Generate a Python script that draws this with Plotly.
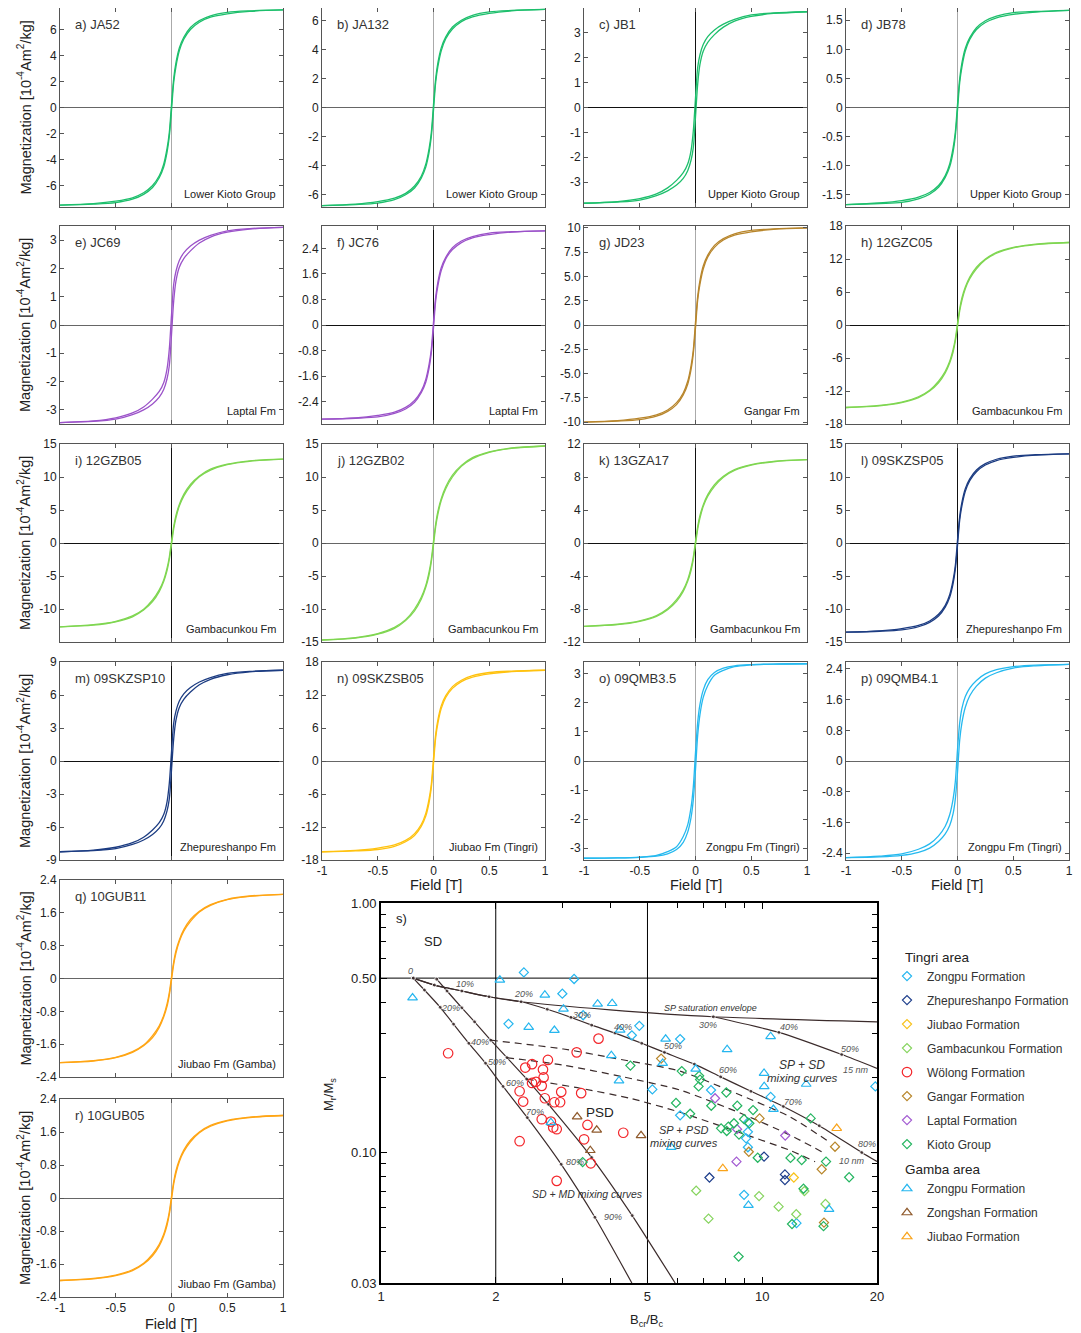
import numpy as np
import plotly.graph_objects as go

# page is drawn with the browser's default 8px body margin, so the figure is
# 8px smaller than the window and every reference pixel position is shifted by 8
OFF = 8
FIG_W, FIG_H = 1081 - OFF, 1333 - OFF
FONT = "Liberation Sans, Arial, Helvetica, sans-serif"


def fx(px):
    return (px - OFF) / FIG_W


def fy(py):
    return 1 - (py - OFF) / FIG_H


# ---------------- hysteresis loops (panels a-r) ----------------
field_T = [-1, -0.7, -0.5, -0.35, -0.25, -0.17, -0.11, -0.07, -0.04, -0.02, 0,
           0.02, 0.04, 0.07, 0.11, 0.17, 0.25, 0.35, 0.5, 0.7, 1]

panel_tags = ['a', 'b', 'c', 'd', 'e', 'f', 'g', 'h', 'i', 'j', 'k', 'l', 'm', 'n',
              'o', 'p', 'q', 'r']
sample_ids = ['JA52', 'JA132', 'JB1', 'JB78', 'JC69', 'JC76', 'JD23', '12GZC05',
              '12GZB05', '12GZB02', '13GZA17', '09SKZSP05', '09SKZSP10', '09SKZSB05',
              '09QMB3.5', '09QMB4.1', '10GUB11', '10GUB05']
unit_names = ['Lower Kioto Group', 'Lower Kioto Group', 'Upper Kioto Group',
              'Upper Kioto Group', 'Laptal Fm', 'Laptal Fm', 'Gangar Fm',
              'Gambacunkou Fm', 'Gambacunkou Fm', 'Gambacunkou Fm', 'Gambacunkou Fm',
              'Zhepureshanpo Fm', 'Zhepureshanpo Fm', 'Jiubao Fm (Tingri)',
              'Zongpu Fm (Tingri)', 'Zongpu Fm (Tingri)', 'Jiubao Fm (Gamba)',
              'Jiubao Fm (Gamba)']

# upper (descending-field) branch, magnetization in 10^-4 Am^2/kg at field_T
m_JA52 = [-7.5, -7.39, -7.2, -6.94, -6.56, -6.0, -5.25, -4.35, -3.15, -1.95, 0.23,
          2.25, 3.45, 4.58, 5.4, 6.15, 6.68, 7.05, 7.31, 7.43, 7.5]
m_JA132 = [-6.75, -6.65, -6.48, -6.24, -5.91, -5.4, -4.73, -3.92, -2.84, -1.76, 0.2,
           2.03, 3.11, 4.12, 4.86, 5.54, 6.01, 6.35, 6.58, 6.68, 6.75]
m_JB1 = [-3.85, -3.78, -3.66, -3.47, -3.23, -2.93, -2.62, -2.27, -1.73, -0.96, 0.39,
         1.62, 2.12, 2.54, 2.85, 3.12, 3.35, 3.54, 3.72, 3.8, 3.85]
m_JB78 = [-1.67, -1.64, -1.6, -1.54, -1.46, -1.34, -1.17, -0.97, -0.7, -0.43, 0.05,
          0.5, 0.77, 1.02, 1.2, 1.37, 1.49, 1.57, 1.63, 1.65, 1.67]
m_JC69 = [-3.45, -3.39, -3.28, -3.11, -2.9, -2.62, -2.35, -2.04, -1.55, -0.86, 0.35,
          1.45, 1.9, 2.28, 2.55, 2.79, 3.0, 3.17, 3.33, 3.41, 3.45]
m_JC76 = [-2.95, -2.91, -2.83, -2.73, -2.58, -2.36, -2.07, -1.71, -1.24, -0.77, 0.09,
          0.89, 1.36, 1.8, 2.12, 2.42, 2.63, 2.77, 2.88, 2.92, 2.95]
m_JD23 = [-10, -9.85, -9.6, -9.25, -8.75, -8.0, -7.0, -5.8, -4.2, -2.6, 0.3,
          3.0, 4.6, 6.1, 7.2, 8.2, 8.9, 9.4, 9.75, 9.9, 10]
m_12GZC05 = [-15, -14.63, -14.03, -13.05, -11.85, -10.2, -8.4, -6.6, -4.5, -2.55, 0.3,
             3.0, 4.95, 6.9, 8.7, 10.5, 12.0, 13.2, 14.1, 14.7, 15]
m_12GZB05 = [-12.7, -12.38, -11.87, -11.05, -10.03, -8.64, -7.11, -5.59, -3.81, -2.16,
             0.25, 2.54, 4.19, 5.84, 7.37, 8.89, 10.16, 11.18, 11.94, 12.45, 12.7]
m_12GZB02 = [-14.7, -14.33, -13.74, -12.79, -11.61, -10.0, -8.23, -6.47, -4.41, -2.5,
             0.29, 2.94, 4.85, 6.76, 8.53, 10.29, 11.76, 12.94, 13.82, 14.41, 14.7]
m_13GZA17 = [-10.1, -9.85, -9.44, -8.79, -7.98, -6.87, -5.66, -4.44, -3.03, -1.72, 0.2,
             2.02, 3.33, 4.65, 5.86, 7.07, 8.08, 8.89, 9.49, 9.9, 10.1]
m_09SKZSP05 = [-13.5, -13.3, -12.96, -12.49, -11.81, -10.8, -9.45, -7.83, -5.67, -3.51,
               0.41, 4.05, 6.21, 8.24, 9.72, 11.07, 12.02, 12.69, 13.16, 13.37, 13.5]
m_09SKZSP10 = [-8.25, -8.11, -7.84, -7.43, -6.93, -6.27, -5.61, -4.87, -3.71, -2.06,
               0.83, 3.47, 4.54, 5.45, 6.11, 6.68, 7.18, 7.59, 7.96, 8.15, 8.25]
m_09SKZSB05 = [-16.5, -16.25, -15.84, -15.26, -14.44, -13.2, -11.55, -9.57, -6.93, -4.29,
               0.5, 4.95, 7.59, 10.07, 11.88, 13.53, 14.69, 15.51, 16.09, 16.34, 16.5]
m_09QMB3_5 = [-3.35, -3.34, -3.31, -3.25, -3.12, -2.95, -2.6, -2.2, -1.6, -0.9, 0.3,
              1.35, 1.95, 2.45, 2.8, 3.05, 3.2, 3.28, 3.32, 3.34, 3.35]
m_09QMB4_1 = [-2.52, -2.48, -2.42, -2.3, -2.16, -1.95, -1.7, -1.4, -1.0, -0.55, 0.3,
              1.0, 1.38, 1.68, 1.9, 2.1, 2.27, 2.38, 2.46, 2.5, 2.52]
m_10GUB11 = [-2.05, -2.0, -1.92, -1.78, -1.62, -1.39, -1.15, -0.9, -0.62, -0.35, 0.04,
             0.41, 0.68, 0.94, 1.19, 1.44, 1.64, 1.8, 1.93, 2.01, 2.05]
m_10GUB05 = [-2.0, -1.95, -1.87, -1.74, -1.58, -1.36, -1.12, -0.88, -0.6, -0.34, 0.04,
             0.4, 0.66, 0.92, 1.16, 1.4, 1.6, 1.76, 1.88, 1.96, 2.0]

upper_branches = [m_JA52, m_JA132, m_JB1, m_JB78, m_JC69, m_JC76, m_JD23, m_12GZC05,
                  m_12GZB05, m_12GZB02, m_13GZA17, m_09SKZSP05, m_09SKZSP10,
                  m_09SKZSB05, m_09QMB3_5, m_09QMB4_1, m_10GUB11, m_10GUB05]

y_tick_labels = [
    ['6', '4', '2', '0', '-2', '-4', '-6'],
    ['6', '4', '2', '0', '-2', '-4', '-6'],
    ['3', '2', '1', '0', '-1', '-2', '-3'],
    ['1.5', '1.0', '0.5', '0', '-0.5', '-1.0', '-1.5'],
    ['3', '2', '1', '0', '-1', '-2', '-3'],
    ['2.4', '1.6', '0.8', '0', '-0.8', '-1.6', '-2.4'],
    ['10', '7.5', '5.0', '2.5', '0', '-2.5', '-5.0', '-7.5', '-10'],
    ['18', '12', '6', '0', '-6', '-12', '-18'],
    ['15', '10', '5', '0', '-5', '-10'],
    ['15', '10', '5', '0', '-5', '-10', '-15'],
    ['12', '8', '4', '0', '-4', '-8', '-12'],
    ['15', '10', '5', '0', '-5', '-10', '-15'],
    ['9', '6', '3', '0', '-3', '-6', '-9'],
    ['18', '12', '6', '0', '-6', '-12', '-18'],
    ['3', '2', '1', '0', '-1', '-2', '-3'],
    ['2.4', '1.6', '0.8', '0', '-0.8', '-1.6', '-2.4'],
    ['2.4', '1.6', '0.8', '0', '-0.8', '-1.6', '-2.4'],
    ['2.4', '1.6', '0.8', '0', '-0.8', '-1.6', '-2.4'],
]
x_tick_labels = ['-1', '-0.5', '0', '0.5', '1']

# ---------------- Day plot (panel s) ----------------
series_names = ['Zongpu Formation', 'Zhepureshanpo Formation', 'Jiubao Formation',
                'Gambacunkou Formation', 'Wölong Formation', 'Gangar Formation',
                'Laptal Formation', 'Kioto Group', 'Zongpu Formation',
                'Zongshan Formation', 'Jiubao Formation']
area_names = ['Tingri area', 'Gamba area']

zongpu_t_bcr_bc = [2.37, 3.21, 2.99, 3.39, 2.16, 4.76, 4.55, 5.15, 6.09, 7.34, 10.52,
                   19.8, 6.09, 9.17, 9.17, 9.07, 9.17, 8.96, 12.30]
zongpu_t_mr_ms = [0.527, 0.496, 0.433, 0.355, 0.328, 0.322, 0.295, 0.179, 0.285, 0.178,
                  0.167, 0.184, 0.141, 0.132, 0.121, 0.114, 0.105, 0.0677, 0.0521]
zhepu_bcr_bc = [10.11, 7.27, 11.47, 11.47]
zhepu_mr_ms = [0.0963, 0.0794, 0.0817, 0.0776]
jiubao_t_bcr_bc = [12.10]
jiubao_t_mr_ms = [0.0794]
gamba_bcr_bc = [6.71, 7.23, 9.81, 11.04, 14.65, 12.28, 12.90]
gamba_mr_ms = [0.0703, 0.0543, 0.0669, 0.0607, 0.0622, 0.0566, 0.0701]
wolong_bcr_bc = [1.50, 3.72, 3.26, 2.74, 2.49, 2.39, 2.66, 2.67, 2.49, 2.55, 2.64, 2.31,
                 2.97, 3.35, 2.36, 2.69, 2.85, 2.95, 2.64, 2.79, 2.83, 2.89, 3.48, 4.32,
                 2.31, 3.41, 3.55, 2.89]
wolong_mr_ms = [0.250, 0.286, 0.252, 0.235, 0.226, 0.219, 0.215, 0.200, 0.190, 0.192,
                0.185, 0.176, 0.175, 0.173, 0.160, 0.165, 0.159, 0.159, 0.136, 0.133,
                0.126, 0.124, 0.129, 0.120, 0.111, 0.113, 0.0905, 0.077]
gangar_bcr_bc = [5.43, 9.84, 15.52, 9.22, 14.32, 14.52]
gangar_mr_ms = [0.238, 0.137, 0.1055, 0.1007, 0.0857, 0.0524]
laptal_bcr_bc = [7.52, 8.59, 11.49, 8.56]
laptal_mr_ms = [0.165, 0.124, 0.117, 0.0919]
kioto_bcr_bc = [4.51, 5.94, 6.15, 6.83, 6.87, 6.81, 8.05, 7.35, 8.60, 9.46, 6.47, 8.96,
                9.25, 7.80, 8.07, 8.43, 8.69, 8.15, 13.4, 9.73, 11.86, 12.69, 14.7, 16.9,
                12.83, 11.97, 14.48, 8.67, 3.38]
kioto_mr_ms = [0.223, 0.158, 0.212, 0.203, 0.196, 0.184, 0.174, 0.154, 0.154, 0.148,
               0.143, 0.136, 0.131, 0.125, 0.122, 0.131, 0.118, 0.127, 0.137, 0.0953,
               0.0951, 0.0933, 0.092, 0.0796, 0.0716, 0.0517, 0.0507, 0.0383, 0.0916]
zongpu_g_bcr_bc = [1.21, 2.05, 2.69, 3.01, 3.70, 4.04, 2.44, 2.85, 4.24, 4.02, 5.58, 5.48,
                   8.09, 4.21, 6.69, 10.52, 10.11, 10.12, 13.04, 10.70, 5.77, 9.20, 14.97,
                   2.79]
zongpu_g_mr_ms = [0.417, 0.491, 0.428, 0.376, 0.394, 0.396, 0.318, 0.309, 0.310, 0.245,
                  0.285, 0.228, 0.259, 0.194, 0.216, 0.292, 0.208, 0.184, 0.188, 0.149,
                  0.105, 0.0615, 0.0592, 0.132]
zongshan_bcr_bc = [3.27, 3.68, 4.81, 3.54]
zongshan_mr_ms = [0.139, 0.123, 0.117, 0.102]
jiubao_g_bcr_bc = [15.68, 7.88]
jiubao_g_mr_ms = [0.125, 0.0863]

# theoretical mixing curves (Dunlop 2002)
sp_sd_10nm_x = [1.215, 1.38, 1.63, 1.92, 2.33, 2.73, 3.15, 3.57, 4.11, 4.83, 5.54, 6.64,
                7.78, 9.34, 11.36, 14.11, 18.24, 20]
sp_sd_10nm_y = [0.50, 0.469, 0.444, 0.421, 0.402, 0.375, 0.348, 0.324, 0.301, 0.274,
                0.252, 0.226, 0.201, 0.176, 0.153, 0.128, 0.100, 0.092]
sp_envelope_x = [1.215, 1.38, 1.63, 1.92, 2.33, 3.99, 7.44, 20]
sp_envelope_y = [0.50, 0.469, 0.444, 0.421, 0.402, 0.373, 0.350, 0.334]
sp_sd_15nm_x = [7.44, 11.06, 16.16, 20]
sp_sd_15nm_y = [0.350, 0.303, 0.247, 0.2175]
sd_md_1_x = [1.215, 1.30, 1.43, 1.55, 1.70, 1.88, 2.09, 2.42, 2.97, 3.64, 4.55]
sd_md_1_y = [0.50, 0.448, 0.382, 0.327, 0.274, 0.228, 0.184, 0.138, 0.0897, 0.055, 0.03]
sd_md_2_x = [1.40, 1.49, 1.63, 1.76, 1.94, 2.14, 2.41, 2.75, 3.57, 4.56, 5.91]
sd_md_2_y = [0.495, 0.444, 0.380, 0.334, 0.282, 0.240, 0.197, 0.156, 0.0955, 0.0559, 0.03]
sp_psd_1_x = [1.94, 3.01, 4.07, 6.09, 8.75, 11.83, 14.76]
sp_psd_1_y = [0.282, 0.260, 0.239, 0.212, 0.170, 0.139, 0.112]
sp_psd_2_x = [2.14, 3.01, 4.32, 6.09, 8.75, 11.83, 14.46]
sp_psd_2_y = [0.240, 0.224, 0.201, 0.178, 0.144, 0.1175, 0.0999]
sp_psd_3_x = [2.41, 3.33, 4.50, 6.09, 8.75, 11.83, 13.76]
sp_psd_3_y = [0.197, 0.181, 0.165, 0.145, 0.120, 0.102, 0.0919]

day_x_ticks = ['1', '2', '5', '10', '20']
day_y_ticks = ['0.03', '0.10', '0.50', '1.00']
day_x_minor = [3, 4, 6, 7, 8, 9]
day_y_minor = [0.04, 0.05, 0.06, 0.07, 0.08, 0.09, 0.2, 0.3, 0.4, 0.6, 0.7, 0.8, 0.9]

# ================= styling / layout =================
loop_colors = (['#1dbf6c'] * 4 + ['#9b52c9'] * 2 + ['#b8862c'] + ['#7fd651'] * 4 +
               ['#1c3c82'] * 2 + ['#ffc20f'] + ['#25b9ef'] * 2 + ['#ffa514'] * 2)
y_limits = [7.65, 6.85, 4.0, 1.71, 3.5, 3.1, 10.2, 18, 15, 15, 12, 15, 9, 18, 3.41,
            2.58, 2.4, 2.4]
col_px = [(60, 283), (322, 545), (584, 807), (846, 1069)]
row_px = [(8, 207), (226, 424), (444, 642), (662, 860), (880, 1077), (1099, 1297)]
grid_pos = [(k // 4, k % 4) for k in range(16)] + [(4, 0), (5, 0)]
labelled_x = {13, 14, 15, 17}
dark_zero = {2, 5, 7, 8, 10, 11, 12}

fig = go.Figure()
axes = {}
annotations = []

H = np.array(field_T)
for k in range(18):
    sfx = '' if k == 0 else str(k + 1)
    up = np.array(upper_branches[k])
    for xs, ys in ((H[::-1], up[::-1]), (H, -up[::-1])):
        fig.add_trace(go.Scatter(
            x=xs, y=ys, xaxis='x' + sfx, yaxis='y' + sfx, mode='lines',
            line=dict(color=loop_colors[k], width=1.3, shape='spline', smoothing=0.9),
            showlegend=False, hoverinfo='skip'))
    r, c = grid_pos[k]
    x0, x1 = col_px[c]
    y0, y1 = row_px[r]
    vz = '#111111' if k in dark_zero else '#aaaaaa'
    hz = '#111111' if k in dark_zero else '#666666'
    tf = dict(family=FONT, size=12, color='#222')
    xa = dict(domain=[fx(x0), fx(x1)], range=[-1, 1], anchor='y' + sfx,
              showgrid=False, zeroline=True, zerolinecolor=vz, zerolinewidth=1,
              showline=True, linecolor='#555', linewidth=1, mirror='ticks',
              ticks='inside', ticklen=4, tickcolor='#555', tickfont=tf, fixedrange=True,
              automargin=False)
    if k in labelled_x:
        xa.update(tickvals=[float(t) for t in x_tick_labels], ticktext=x_tick_labels,
                  showticklabels=True)
    else:
        xa.update(tickvals=[-0.5, 0, 0.5], showticklabels=False)
    lim = y_limits[k]
    ya = dict(domain=[fy(y1), fy(y0)], range=[-lim, lim],
              anchor='x' + sfx, showgrid=False, zeroline=True, zerolinecolor=hz,
              zerolinewidth=1, showline=True, linecolor='#555', linewidth=1,
              mirror='ticks', ticks='inside', ticklen=4, tickcolor='#555',
              tickvals=[float(t) for t in y_tick_labels[k]],
              ticktext=y_tick_labels[k], tickfont=tf, fixedrange=True,
              automargin=False)
    axes['xaxis' + sfx] = xa
    axes['yaxis' + sfx] = ya
    annotations.append(dict(xref='x%s domain' % sfx, yref='y%s domain' % sfx,
                            x=0.058, y=0.915, xanchor='left', yanchor='middle',
                            text='%s) %s' % (panel_tags[k], sample_ids[k]),
                            showarrow=False,
                            font=dict(family=FONT, size=13, color='#333')))
    annotations.append(dict(xref='x%s domain' % sfx, yref='y%s domain' % sfx,
                            x=0.978, y=0.065, xanchor='right', yanchor='middle',
                            text=unit_names[k], showarrow=False,
                            font=dict(family=FONT, size=11, color='#222')))

# y titles and x titles for hysteresis panels
for (y0, y1) in row_px:
    annotations.append(dict(xref='paper', yref='paper', x=fx(24),
                            y=fy((y0 + y1) / 2), textangle=-90,
                            text='Magnetization [10<sup>-4</sup>Am<sup>2</sup>/kg]',
                            showarrow=False, xanchor='center', yanchor='middle',
                            font=dict(family=FONT, size=14.5, color='#222')))
for (cx, cy) in [(436, 885), (696, 885), (957, 885), (171, 1324)]:
    annotations.append(dict(xref='paper', yref='paper', x=fx(cx), y=fy(cy),
                            text='Field [T]', showarrow=False, xanchor='center',
                            yanchor='middle',
                            font=dict(family=FONT, size=14.5, color='#222')))

# ---------------- Day plot ----------------
DX, DY = 'x19', 'y19'
ln = '#3b2b2b'
for xs, ys in (([2, 2], [0.03, 1]), ([5, 5], [0.03, 1]), ([1, 20], [0.5, 0.5])):
    fig.add_trace(go.Scatter(x=xs, y=ys, xaxis=DX, yaxis=DY, mode='lines',
                             line=dict(color='black', width=1), showlegend=False,
                             hoverinfo='skip'))


def curve(xs, ys, dash='solid', dots=True):
    n = len(xs)
    sizes = [4] * n
    sizes[-1] = 0
    fig.add_trace(go.Scatter(
        x=xs, y=ys, xaxis=DX, yaxis=DY,
        mode='lines+markers' if dots else 'lines',
        line=dict(color=ln, width=1.2, dash=dash, shape='spline', smoothing=0.6),
        marker=dict(size=sizes, color=ln), showlegend=False, hoverinfo='skip'))


curve(sp_envelope_x, sp_envelope_y, dots=False)
curve(sp_sd_10nm_x, sp_sd_10nm_y)
curve(sp_sd_15nm_x, sp_sd_15nm_y)
curve(sd_md_1_x, sd_md_1_y)
curve(sd_md_2_x, sd_md_2_y)
for xs, ys in ((sp_psd_1_x, sp_psd_1_y), (sp_psd_2_x, sp_psd_2_y),
               (sp_psd_3_x, sp_psd_3_y)):
    curve(xs, ys, dash='7px,5px', dots=False)

series = [
    (zongpu_t_bcr_bc, zongpu_t_mr_ms, 'diamond-open', '#25b6ef', 7),
    (zhepu_bcr_bc, zhepu_mr_ms, 'diamond-open', '#1f3f8c', 7),
    (jiubao_t_bcr_bc, jiubao_t_mr_ms, 'diamond-open', '#f8c21a', 7),
    (gamba_bcr_bc, gamba_mr_ms, 'diamond-open', '#86d45e', 7),
    (wolong_bcr_bc, wolong_mr_ms, 'circle-open', '#f3262b', 9.5),
    (gangar_bcr_bc, gangar_mr_ms, 'diamond-open', '#b8862a', 7),
    (laptal_bcr_bc, laptal_mr_ms, 'diamond-open', '#a35bd2', 7),
    (kioto_bcr_bc, kioto_mr_ms, 'diamond-open', '#24b560', 7),
    (zongpu_g_bcr_bc, zongpu_g_mr_ms, 'triangle-up-open', '#25b6ef', 8.5),
    (zongshan_bcr_bc, zongshan_mr_ms, 'triangle-up-open', '#8f5a2c', 8.5),
    (jiubao_g_bcr_bc, jiubao_g_mr_ms, 'triangle-up-open', '#f9a31a', 8.5),
]
for i, (xs, ys, sym, col, sz) in enumerate(series):
    tr = dict(x=xs, y=ys, xaxis=DX, yaxis=DY, mode='markers', name=series_names[i],
              marker=dict(symbol=sym, size=sz, color=col, line=dict(color=col, width=1.2)),
              legendgroup='g%d' % i, hoverinfo='skip')
    if i in (0, 8):
        tr['legendgrouptitle'] = dict(text=area_names[0 if i == 0 else 1],
                                      font=dict(family=FONT, size=13.5, color='#222'))
    fig.add_trace(go.Scatter(**tr))

dtf = dict(family=FONT, size=13, color='#222')
axes['xaxis19'] = dict(domain=[fx(381), fx(877)], type='log',
                       range=[0, np.log10(20)], anchor=DY,
                       tickvals=[float(t) for t in day_x_ticks], ticktext=day_x_ticks,
                       ticks='inside', ticklen=6, tickcolor='black', tickwidth=1.2,
                       showline=True, linecolor='black', linewidth=2, mirror='allticks',
                       showgrid=False, zeroline=False, tickfont=dtf, fixedrange=True,
                       automargin=False,
                       minor=dict(tickvals=day_x_minor, ticks='inside', ticklen=5,
                                  tickcolor='black', showgrid=False))
axes['yaxis19'] = dict(domain=[fy(1283), fy(903)], type='log',
                       range=[np.log10(0.03), 0], anchor=DX,
                       tickvals=[float(t) for t in day_y_ticks], ticktext=day_y_ticks,
                       ticks='inside', ticklen=6, tickcolor='black', tickwidth=1.2,
                       showline=True, linecolor='black', linewidth=2, mirror='allticks',
                       showgrid=False, zeroline=False, tickfont=dtf, fixedrange=True,
                       automargin=False,
                       minor=dict(tickvals=day_y_minor, ticks='inside', ticklen=5,
                                  tickcolor='black', showgrid=False))

L = np.log10
pct = dict(family=FONT, size=9, color='#555')
day_texts = [
    ('<i>0</i>', 1.196, 0.534, pct), ('<i>10%</i>', 1.661, 0.4723, pct),
    ('<i>20%</i>', 2.362, 0.4305, pct), ('<i>30%</i>', 3.374, 0.3547, pct),
    ('<i>40%</i>', 4.322, 0.3193, pct), ('<i>50%</i>', 5.846, 0.268, pct),
    ('<i>60%</i>', 8.149, 0.214, pct), ('<i>70%</i>', 12.07, 0.1598, pct),
    ('<i>80%</i>', 18.79, 0.1082, pct), ('<i>10 nm</i>', 17.22, 0.0928, pct),
    ('<i>30%</i>', 7.22, 0.3243, pct), ('<i>40%</i>', 11.78, 0.3175, pct),
    ('<i>50%</i>', 16.99, 0.2598, pct), ('<i>15 nm</i>', 17.61, 0.2145, pct),
    ('<i>20%</i>', 1.517, 0.3793, pct), ('<i>40%</i>', 1.815, 0.2773, pct),
    ('<i>50%</i>', 2.015, 0.2299, pct), ('<i>60%</i>', 2.249, 0.1899, pct),
    ('<i>70%</i>', 2.536, 0.1457, pct), ('<i>80%</i>', 3.227, 0.0914, pct),
    ('<i>90%</i>', 4.068, 0.0553, pct),
    ('<i>SP saturation envelope</i>', 7.296, 0.3795, dict(family=FONT, size=9, color='#333')),
    ('<i>SP + SD</i>', 12.69, 0.2242, dict(family=FONT, size=12, color='#333')),
    ('<i>mixing curves</i>', 12.76, 0.1994, dict(family=FONT, size=11.5, color='#333')),
    ('<i>SP + PSD</i>', 6.21, 0.1230, dict(family=FONT, size=11, color='#333')),
    ('<i>mixing curves</i>', 6.248, 0.1089, dict(family=FONT, size=11, color='#333')),
    ('<i>SD + MD mixing curves</i>', 3.477, 0.0680, dict(family=FONT, size=10.5, color='#333')),
    ('PSD', 3.754, 0.1449, dict(family=FONT, size=13.5, color='#222')),
    ('SD', 1.371, 0.6998, dict(family=FONT, size=13, color='#222')),
    ('s)', 1.133, 0.8684, dict(family=FONT, size=13, color='#222')),
]
for txt, xv, yv, f in day_texts:
    annotations.append(dict(xref=DX, yref=DY, x=L(xv), y=L(yv), text=txt,
                            showarrow=False, xanchor='center', yanchor='middle', font=f))
annotations.append(dict(xref='paper', yref='paper', x=fx(329), y=fy(1095),
                        textangle=-90, text='M<sub>r</sub>/M<sub>s</sub>',
                        xanchor='center', yanchor='middle',
                        showarrow=False, font=dict(family=FONT, size=13, color='#222')))
annotations.append(dict(xref='paper', yref='paper', x=fx(647), y=fy(1320),
                        text='B<sub>cr</sub>/B<sub>c</sub>', showarrow=False,
                        xanchor='center', yanchor='middle',
                        font=dict(family=FONT, size=13, color='#222')))

fig.update_layout(
    width=FIG_W, height=FIG_H, margin=dict(l=0, r=0, t=0, b=0, autoexpand=False),
    paper_bgcolor='white', plot_bgcolor='white',
    font=dict(family=FONT, size=12, color='#222'),
    annotations=annotations,
    showlegend=True,
    legend=dict(x=fx(900), y=fy(941), xanchor='left', yanchor='top',
                traceorder='grouped', tracegroupgap=5, indentation=-13,
                bgcolor='rgba(0,0,0,0)', font=dict(family=FONT, size=12, color='#333')),
    **axes,
)

fig.write_html('out.html')
